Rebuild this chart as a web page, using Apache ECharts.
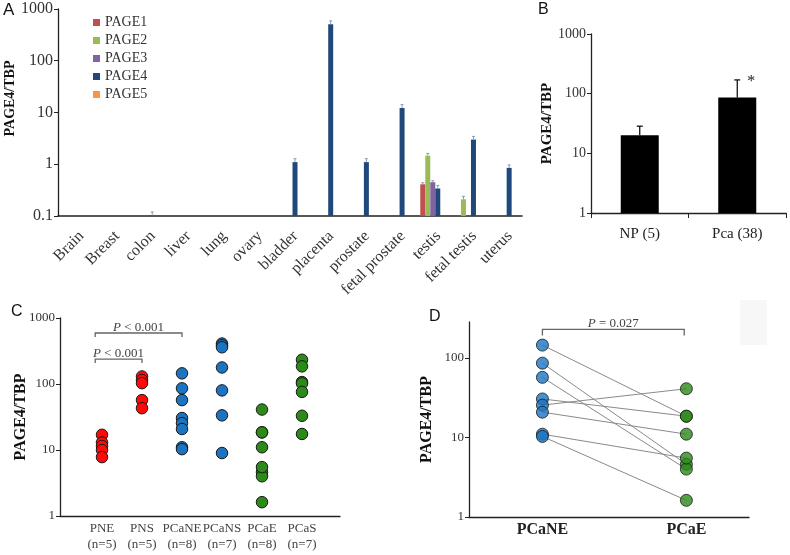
<!DOCTYPE html>
<html><head><meta charset="utf-8">
<script src="https://cdn.jsdelivr.net/npm/echarts@6/dist/echarts.min.js"></script>
<style>html,body{margin:0;padding:0;background:#fff}#c{width:790px;height:555px}</style>
</head><body><div id="c"></div>
<script>
// ---------- Panel A data ----------
const tissues = ['Brain','Breast','colon','liver','lung','ovary','bladder','placenta','prostate','fetal prostate','testis','fetal testis','uterus'];
const pageNames = ['PAGE1','PAGE2','PAGE3','PAGE4','PAGE5'];
const page1 = [null,null,null,null,null,null,null,null,null,null,0.41,null,null];
const page2 = [null,null,null,null,null,null,null,null,null,null,1.46,0.21,null];
const page3 = [null,null,null,null,null,null,null,null,null,null,0.45,null,null];
const page4 = [null,null,0.102,null,null,null,1.1,510,1.1,12.2,0.34,3.0,0.85];
const page5 = [null,null,null,null,null,null,null,null,null,null,null,null,null];
const page1Up = [null,null,null,null,null,null,null,null,null,null,0.44,null,null];
const page2Up = [null,null,null,null,null,null,null,null,null,null,1.62,0.24,null];
const page3Up = [null,null,null,null,null,null,null,null,null,null,0.48,null,null];
const page4Up = [null,null,0.12,null,null,null,1.28,590,1.28,14.2,0.39,3.45,0.97];
const page5Up = [null,null,null,null,null,null,null,null,null,null,null,null,null];

// ---------- Panel B data ----------
const bGroups = ['NP (5)', 'Pca (38)'];
const bMeans = [20, 86];
const bUpper = [28.5, 170];
const bStars = ['', '*'];

// ---------- Panel C data ----------
const cGroups = ['PNE','PNS','PCaNE','PCaNS','PCaE','PCaS'];
const cN = [5,5,8,7,8,7];
const cPNE = [17, 13, 11.5, 10, 7.8];
const cPNS = [130, 115, 103, 57, 43];
const cPCaNE = [145, 86, 57, 30.5, 25.5, 20.8, 11, 10.3];
const cPCaNS = [410, 385, 360, 178, 80, 33.5, 9];
const cPCaE = [18.5, 4.6, 4.0, 18.5, 41, 11, 5.5, 1.62];
const cPCaS = [233, 185, 107, 102, 76, 33, 17.5];
const cBracketLo = [0.83, 0.83];
const cBracketHi = [3, 2];
const cBracketY = [593, 239];
const cBracketText = ['P < 0.001', 'P < 0.001'];

// ---------- Panel D data (paired) ----------
const dGroups = ['PCaNE', 'PCaE'];
const dNE = cPCaNE;
const dE = cPCaE;
const dBracket = [1, 2.97, 228];
const dBracketText = 'P = 0.027';

// ---------- styles ----------
const SERIF = '"Liberation Serif", "Times New Roman", serif';
const SANS = '"Liberation Sans", Arial, sans-serif';
const pageColors = ['#C0504D', '#9BBB59', '#8064A2', '#1F497D', '#F79646'];
const RED = '#ff0a0a', BLUE = '#1b74c2', GREEN = '#2c8a18';
const cColors = [RED, RED, BLUE, BLUE, GREEN, GREEN];

const pageData = [page1, page2, page3, page4, page5];
const pageUp = [page1Up, page2Up, page3Up, page4Up, page5Up];

const chart = echarts.init(document.getElementById('c'), null, {renderer: 'canvas'});

const fmtLog = v => String(+v.toPrecision(6));

function logY(grid, min, max, labelSize, nameSize, nameGap, extra) {
  return Object.assign({
    gridIndex: grid, type: 'log', logBase: 10, min: min, max: max,
    axisLine: {show: true, onZero: false, lineStyle: {color: '#222', width: 1.3}},
    axisTick: {show: true, length: 4, lineStyle: {color: '#222'}},
    splitLine: {show: false},
    axisLabel: {fontFamily: SERIF, fontSize: labelSize, color: '#333', margin: 5, formatter: fmtLog},
    name: 'PAGE4/TBP', nameLocation: 'middle', nameGap: nameGap, nameRotate: 90, nameMoveOverlap: false,
    nameTextStyle: {fontFamily: SERIF, fontWeight: 'bold', fontSize: nameSize, color: '#111'}
  }, extra || {});
}

const series = [];
// A bars
pageNames.forEach((n, i) => {
  series.push({
    name: n, type: 'bar', xAxisIndex: 0, yAxisIndex: 0, data: pageData[i],
    barWidth: 5, barGap: '0%', itemStyle: {color: pageColors[i]}, z: 2
  });
});
// A error bars
pageNames.forEach((n, i) => {
  const d = [];
  pageData[i].forEach((v, k) => { if (v != null) d.push([k, v, pageUp[i][k]]); });
  series.push({
    type: 'custom', xAxisIndex: 0, yAxisIndex: 0, data: d, z: 3,
    encode: {x: 0, y: [1, 2]},
    renderItem: (params, api) => {
      const p0 = api.coord([api.value(0), api.value(1)]);
      const p1 = api.coord([api.value(0), api.value(2)]);
      const cx = p0[0] + (i - 2) * 5;
      const st = {stroke: '#8a9ab0', lineWidth: 1};
      return {type: 'group', children: [
        {type: 'line', shape: {x1: cx, y1: p0[1], x2: cx, y2: p1[1]}, style: st},
        {type: 'line', shape: {x1: cx - 1.5, y1: p1[1], x2: cx + 1.5, y2: p1[1]}, style: st}
      ]};
    }
  });
});
// B bars
series.push({type: 'bar', xAxisIndex: 1, yAxisIndex: 1, data: bMeans, barWidth: 38, itemStyle: {color: '#000'}});
series.push({
  type: 'custom', xAxisIndex: 1, yAxisIndex: 1, z: 3,
  data: bMeans.map((v, k) => [k, v, bUpper[k]]), encode: {x: 0, y: [1, 2]},
  renderItem: (params, api) => {
    const p0 = api.coord([api.value(0), api.value(1)]);
    const p1 = api.coord([api.value(0), api.value(2)]);
    const st = {stroke: '#000', lineWidth: 1.2};
    const k = params.dataIndex;
    return {type: 'group', children: [
      {type: 'line', shape: {x1: p0[0], y1: p0[1], x2: p0[0], y2: p1[1]}, style: st},
      {type: 'line', shape: {x1: p0[0] - 3, y1: p1[1], x2: p0[0] + 3, y2: p1[1]}, style: st},
      {type: 'text', x: p0[0] + 14, y: p1[1] + 2, style: {text: bStars[k], font: '16px ' + SERIF, fill: '#222', align: 'center', verticalAlign: 'middle'}}
    ]};
  }
});
// C scatter
const cAll = [cPNE, cPNS, cPCaNE, cPCaNS, cPCaE, cPCaS];
cAll.forEach((arr, g) => {
  series.push({
    type: 'scatter', xAxisIndex: 2, yAxisIndex: 2, symbolSize: 11.5, z: 5,
    data: arr.map(v => [g + 1, v]),
    itemStyle: {color: cColors[g], borderColor: '#1a1a1a', borderWidth: 1, opacity: 1}
  });
});
// C brackets
series.push({
  type: 'custom', xAxisIndex: 2, yAxisIndex: 2, z: 4,
  data: cBracketLo.map((lo, k) => [lo, cBracketHi[k], cBracketY[k]]),
  encode: {x: [0, 1], y: 2},
  renderItem: (params, api) => {
    const a = api.coord([api.value(0), api.value(2)]);
    const b = api.coord([api.value(1), api.value(2)]);
    const k = params.dataIndex;
    const txt = cBracketText[k].replace(/^P/, '{i|P}');
    return {type: 'group', children: [
      {type: 'polyline', shape: {points: [[a[0], a[1] + 4], [a[0], a[1]], [b[0], b[1]], [b[0], b[1] + 4]]}, style: {stroke: '#666', lineWidth: 1.3, fill: null}},
      {type: 'text', x: (a[0] + b[0]) / 2, y: a[1] + 1, style: {text: txt, fontFamily: SERIF, fontSize: 13, fill: '#444', align: 'center', verticalAlign: 'bottom', rich: {i: {fontStyle: 'italic', fontFamily: SERIF, fontSize: 13, fill: '#444'}}}}
    ]};
  }
});
// D lines
dNE.forEach((v, k) => {
  series.push({
    type: 'line', xAxisIndex: 3, yAxisIndex: 3, data: [[1, v], [3, dE[k]]],
    symbol: 'none', lineStyle: {color: '#8a8a8a', width: 1}, z: 3, silent: true
  });
});
series.push({
  type: 'scatter', xAxisIndex: 3, yAxisIndex: 3, symbolSize: 12, z: 5,
  data: dNE.map(v => [1, v]),
  itemStyle: {color: BLUE, borderColor: '#1a1a1a', borderWidth: 1}
});
series.push({
  type: 'scatter', xAxisIndex: 3, yAxisIndex: 3, symbolSize: 12, z: 5,
  data: dE.map(v => [3, v]),
  itemStyle: {color: GREEN, borderColor: '#1a1a1a', borderWidth: 1}
});
series.push({
  type: 'custom', xAxisIndex: 3, yAxisIndex: 3, z: 4,
  data: [dBracket], encode: {x: [0, 1], y: 2},
  renderItem: (params, api) => {
    const a = api.coord([api.value(0), api.value(2)]);
    const b = api.coord([api.value(1), api.value(2)]);
    const txt = dBracketText.replace(/^P/, '{i|P}');
    return {type: 'group', children: [
      {type: 'polyline', shape: {points: [[a[0], a[1] + 6], [a[0], a[1]], [b[0], b[1]], [b[0], b[1] + 6]]}, style: {stroke: '#666', lineWidth: 1.3, fill: null}},
      {type: 'text', x: (a[0] + b[0]) / 2, y: a[1] + 1, style: {text: txt, fontFamily: SERIF, fontSize: 13, fill: '#444', align: 'center', verticalAlign: 'bottom', rich: {i: {fontStyle: 'italic', fontFamily: SERIF, fontSize: 13, fill: '#444'}}}}
    ]};
  }
});

const option = {
  animation: false,
  backgroundColor: '#fff',
  grid: [
    {left: 58, top: 9, width: 464, height: 207, outerBoundsMode: 'none', containLabel: false},
    {left: 591, top: 34, width: 195, height: 179, outerBoundsMode: 'none', containLabel: false},
    {left: 60, top: 318, width: 280, height: 198, outerBoundsMode: 'none', containLabel: false},
    {left: 469, top: 322, width: 280, height: 195, outerBoundsMode: 'none', containLabel: false}
  ],
  legend: {
    data: pageNames, orient: 'vertical', left: 88, top: 10, icon: 'rect',
    itemWidth: 7, itemHeight: 7, itemGap: 3, itemTextSpacing: 4,
    textStyle: {fontFamily: SERIF, fontSize: 14, color: '#333', lineHeight: 15}
  },
  xAxis: [
    {gridIndex: 0, type: 'category', data: tissues,
     axisLine: {onZero: false, lineStyle: {color: '#222', width: 1.5}}, axisTick: {show: false},
     axisLabel: {interval: 0, rotate: 45, fontFamily: SERIF, fontSize: 16, color: '#333', margin: 12, verticalAlign: 'top'}},
    {gridIndex: 1, type: 'category', data: bGroups,
     axisLine: {onZero: false, lineStyle: {color: '#222', width: 1.3}}, axisTick: {show: true, length: 5, lineStyle: {color: '#222'}},
     axisLabel: {fontFamily: SERIF, fontSize: 15, color: '#222', margin: 14}},
    {gridIndex: 2, type: 'value', min: -0.05, max: 6.95,
     axisLine: {onZero: false, lineStyle: {color: '#222', width: 1.3}}, axisTick: {show: false}, splitLine: {show: false},
     axisLabel: {customValues: [1, 2, 3, 4, 5, 6], fontFamily: SERIF, fontSize: 13, color: '#444', margin: 5, lineHeight: 16,
       formatter: v => cGroups[Math.round(v) - 1] + '\n(n=' + cN[Math.round(v) - 1] + ')'}},
    {gridIndex: 3, type: 'value', min: -0.02, max: 3.87,
     axisLine: {onZero: false, lineStyle: {color: '#222', width: 1.3}}, axisTick: {show: false}, splitLine: {show: false},
     axisLabel: {customValues: [1, 3], fontFamily: SERIF, fontSize: 16, fontWeight: 'bold', color: '#222', margin: 5,
       formatter: v => (v < 2 ? dGroups[0] : dGroups[1])}}
  ],
  yAxis: [
    logY(0, 0.1, 1000, 16, 14, 41, {startValue: 0.1, nameTextStyle: {fontFamily: SERIF, fontWeight: 'bold', fontSize: 14, color: '#111', padding: [0, 0, 0, 28]}}),
    logY(1, 1, 1000, 14, 15, 36, {startValue: 1}),
    logY(2, 1, 1000, 13, 16, 31),
    logY(3, 1, 283, 13, 16, 34, {
      axisTick: {show: true, length: 4, lineStyle: {color: '#222'}, customValues: [1, 10, 100]},
      axisLabel: {fontFamily: SERIF, fontSize: 13, color: '#333', margin: 5, customValues: [1, 10, 100], formatter: fmtLog}})
  ],
  graphic: [
    {type: 'text', left: 3, top: 2, style: {text: 'A', font: '17px ' + SANS, fill: '#111'}},
    {type: 'text', left: 538, top: 2, style: {text: 'B', font: '16px ' + SANS, fill: '#111'}},
    {type: 'text', left: 11, top: 304, style: {text: 'C', font: '16px ' + SANS, fill: '#111'}},
    {type: 'text', left: 429, top: 309, style: {text: 'D', font: '16px ' + SANS, fill: '#111'}},
    {type: 'rect', left: 740, top: 300, shape: {width: 27, height: 45}, style: {fill: '#f7f7f7'}, z: -1}
  ],
  series: series
};
chart.setOption(option);
</script>
</body></html>
